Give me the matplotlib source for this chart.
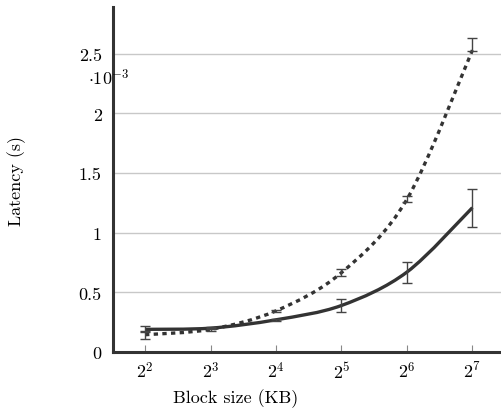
import numpy as np
import matplotlib
matplotlib.use('Agg')
import matplotlib.pyplot as plt
from matplotlib.path import Path
from matplotlib.patches import PathPatch

plt.rcParams['font.family'] = 'serif'
plt.rcParams['font.serif'] = ['cmr10']
plt.rcParams['mathtext.fontset'] = 'cm'
plt.rcParams['axes.formatter.use_mathtext'] = True

# Data (latency in units of 1e-3 s)
block_kb = [4, 8, 16, 32, 64, 128]
solid_lat = [0.19, 0.20, 0.27, 0.39, 0.67, 1.21]
solid_err = [0.025, 0.01, 0.01, 0.053, 0.088, 0.16]
dashed_lat = [0.145, 0.19, 0.345, 0.665, 1.28, 2.53]
dashed_err_lo = [0.035, 0.01, 0.01, 0.027, 0.025, 0.01]
dashed_err_hi = [0.035, 0.01, 0.01, 0.03, 0.03, 0.10]

x_ticks = [4, 8, 16, 32, 64, 128]
x_labels = ['$2^{2}$', '$2^{3}$', '$2^{4}$', '$2^{5}$', '$2^{6}$', '$2^{7}$']
y_ticks = [0, 0.5, 1, 1.5, 2, 2.5]
y_labels = ['0', '0.5', '1', '1.5', '2', '2.5']

dark = '#333333'


def smooth_path(xs, ys, t=0.16):
    # cubic bezier through the points, built in log2(x) space
    px = np.log2(xs)
    py = np.asarray(ys, dtype=float)
    n = len(px)
    verts = [(xs[0], py[0])]
    codes = [Path.MOVETO]
    for i in range(n - 1):
        a = i - 1 if i > 0 else i
        b = i + 2 if i + 2 < n else i + 1
        c1 = (px[i] + t * (px[i + 1] - px[a]), py[i] + t * (py[i + 1] - py[a]))
        c2 = (px[i + 1] - t * (px[b] - px[i]), py[i + 1] - t * (py[b] - py[i]))
        verts += [(2 ** c1[0], c1[1]), (2 ** c2[0], c2[1]), (xs[i + 1], py[i + 1])]
        codes += [Path.CURVE4] * 3
    return Path(verts, codes)


fig = plt.figure(figsize=(5.02, 4.10), dpi=100)
ax = fig.add_axes([0.225, 0.139, 0.78, 0.841])
ax.set_xscale('log', base=2)
ax.set_xlim(2 ** 1.51, 2 ** 7.49)
ax.set_ylim(0, 2.89)

ax.yaxis.grid(True, color='#c8c8c8', linewidth=1.0)
ax.set_axisbelow(True)

ax.add_patch(PathPatch(smooth_path(block_kb, solid_lat), fill=False,
                       edgecolor=dark, linewidth=2.4, zorder=3))
ax.add_patch(PathPatch(smooth_path(block_kb, dashed_lat), fill=False,
                       edgecolor=dark, linewidth=2.4, linestyle=(0, (1.3, 1.3)),
                       zorder=3))

ax.errorbar(block_kb, solid_lat, yerr=solid_err, fmt='none', ecolor='#444444',
            elinewidth=1.0, capsize=3.5, capthick=1.0, zorder=4)
ax.errorbar(block_kb, dashed_lat, yerr=[dashed_err_lo, dashed_err_hi], fmt='none',
            ecolor='#444444', elinewidth=1.0, capsize=3.5, capthick=1.0, zorder=4)

for s in ['top', 'right']:
    ax.spines[s].set_visible(False)
for s in ['left', 'bottom']:
    ax.spines[s].set_color(dark)
    ax.spines[s].set_linewidth(2.2)

ax.set_xticks(x_ticks)
ax.set_xticklabels(x_labels)
ax.minorticks_off()
ax.set_yticks(y_ticks)
ax.set_yticklabels(y_labels)
ax.tick_params(axis='x', direction='in', length=5, color='#888888', width=0.8,
               labelsize=13, pad=6)
ax.tick_params(axis='y', length=0, labelsize=13, pad=8)

ax.set_xlabel('Block size (KB)', fontsize=13, labelpad=10)
ax.xaxis.set_label_coords(0.314, -0.105)
ax.set_ylabel('Latency (s)', fontsize=13)
ax.yaxis.set_label_coords(-0.222, 0.5)

fig.text(0.217, 0.81, r'$\cdot10^{-3}$', fontsize=13, ha='center', va='center')

fig.savefig('out.png', dpi=100)
